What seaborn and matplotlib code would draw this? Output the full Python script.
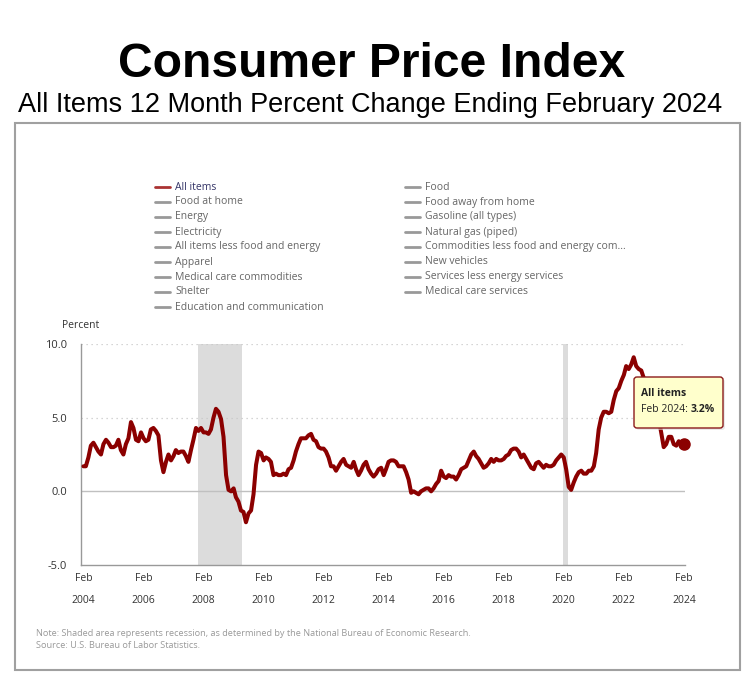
import numpy as np
import pandas as pd
import matplotlib
matplotlib.use("Agg")
import matplotlib.pyplot as plt
import seaborn as sns
from matplotlib.patches import Rectangle, FancyBboxPatch
from matplotlib.lines import Line2D

# ---------------- data ----------------
start_month = "2004-02-01"
cpi_all_items = [
    # 2004 Feb-Dec
    1.7, 1.7, 2.3, 3.1, 3.3, 3.0, 2.7, 2.5, 3.2, 3.5, 3.3,
    # 2005
    3.0, 3.0, 3.1, 3.5, 2.8, 2.5, 3.2, 3.6, 4.7, 4.3, 3.5, 3.4,
    # 2006
    4.0, 3.6, 3.4, 3.5, 4.2, 4.3, 4.1, 3.8, 2.1, 1.3, 2.0, 2.5,
    # 2007
    2.1, 2.4, 2.8, 2.6, 2.7, 2.7, 2.4, 2.0, 2.8, 3.5, 4.3, 4.1,
    # 2008
    4.3, 4.0, 4.0, 3.9, 4.2, 5.0, 5.6, 5.4, 4.9, 3.7, 1.1, 0.1,
    # 2009
    0.0, 0.2, -0.4, -0.7, -1.3, -1.4, -2.1, -1.5, -1.3, -0.2, 1.8, 2.7,
    # 2010
    2.6, 2.1, 2.3, 2.2, 2.0, 1.1, 1.2, 1.1, 1.1, 1.2, 1.1, 1.5,
    # 2011
    1.6, 2.1, 2.7, 3.2, 3.6, 3.6, 3.6, 3.8, 3.9, 3.5, 3.4, 3.0,
    # 2012
    2.9, 2.9, 2.7, 2.3, 1.7, 1.7, 1.4, 1.7, 2.0, 2.2, 1.8, 1.7,
    # 2013
    1.6, 2.0, 1.5, 1.1, 1.4, 1.8, 2.0, 1.5, 1.2, 1.0, 1.2, 1.5,
    # 2014
    1.6, 1.1, 1.5, 2.0, 2.1, 2.1, 2.0, 1.7, 1.7, 1.7, 1.3, 0.8,
    # 2015
    -0.1, 0.0, -0.1, -0.2, 0.0, 0.1, 0.2, 0.2, 0.0, 0.2, 0.5, 0.7,
    # 2016
    1.4, 1.0, 0.9, 1.1, 1.0, 1.0, 0.8, 1.1, 1.5, 1.6, 1.7, 2.1,
    # 2017
    2.5, 2.7, 2.4, 2.2, 1.9, 1.6, 1.7, 1.9, 2.2, 2.0, 2.2, 2.1,
    # 2018
    2.1, 2.2, 2.4, 2.5, 2.8, 2.9, 2.9, 2.7, 2.3, 2.5, 2.2, 1.9,
    # 2019
    1.6, 1.5, 1.9, 2.0, 1.8, 1.6, 1.8, 1.7, 1.7, 1.8, 2.1, 2.3,
    # 2020
    2.5, 2.3, 1.5, 0.3, 0.1, 0.6, 1.0, 1.3, 1.4, 1.2, 1.2, 1.4,
    # 2021
    1.4, 1.7, 2.6, 4.2, 5.0, 5.4, 5.4, 5.3, 5.4, 6.2, 6.8, 7.0,
    # 2022
    7.5, 7.9, 8.5, 8.3, 8.6, 9.1, 8.5, 8.3, 8.2, 7.7, 7.1, 6.5,
    # 2023
    6.4, 6.0, 5.0, 4.9, 4.0, 3.0, 3.2, 3.7, 3.7, 3.2, 3.1, 3.4,
    # 2024 Jan-Feb
    3.1, 3.2,
]
recessions = [("2007-11-20", "2009-05-20"), ("2020-01-20", "2020-03-25")]
tick_years = [2004, 2006, 2008, 2010, 2012, 2014, 2016, 2018, 2020, 2022, 2024]
y_ticks = [-5.0, 0.0, 5.0, 10.0]
legend_col1 = ["All items", "Food at home", "Energy", "Electricity",
               "All items less food and energy", "Apparel",
               "Medical care commodities", "Shelter",
               "Education and communication"]
legend_col2 = ["Food", "Food away from home", "Gasoline (all types)",
               "Natural gas (piped)", "Commodities less food and energy com...",
               "New vehicles", "Services less energy services",
               "Medical care services"]
title = "Consumer Price Index"
subtitle = "All Items 12 Month Percent Change Ending February 2024"
note_lines = ["Note: Shaded area represents recession, as determined by the National Bureau of Economic Research.",
              "Source: U.S. Bureau of Labor Statistics."]

dates = pd.date_range(start_month, periods=len(cpi_all_items), freq="MS")
df = pd.DataFrame({"date": dates, "value": cpi_all_items})

# ---------------- figure ----------------
sns.set_style("white")
plt.rcParams["font.family"] = ["Open Sans", "DejaVu Sans"]
W, H = 755, 677
fig = plt.figure(figsize=(W / 100, H / 100), dpi=100)

def fx(px):
    return px / W

def fy(py):
    return 1 - py / H

# outer box
fig.patches.append(Rectangle((fx(15), fy(670)), fx(740) - fx(15), fy(123) - fy(670),
                             transform=fig.transFigure, fill=False,
                             edgecolor="#a0a0a0", linewidth=1.5))

fig.text(fx(372), fy(77), title, ha="center", va="baseline",
         fontsize=34.6, fontweight="bold", family="Liberation Sans", color="black")
fig.text(fx(370), fy(112), subtitle, ha="center", va="baseline",
         fontsize=19.5, family="Liberation Sans", color="black")

ax = fig.add_axes([fx(81), fy(565), fx(685) - fx(81), fy(344) - fy(565)])

for s, e in recessions:
    ax.axvspan(pd.Timestamp(s), pd.Timestamp(e), color="#dcdcdc", lw=0, zorder=0)

for yv in [5.0, 10.0]:
    ax.axhline(yv, color="#c8c8c8", lw=0.9, ls=(0, (1, 3)), zorder=1)
ax.axhline(0.0, color="#c0c0c0", lw=1.0, zorder=1)

sns.lineplot(data=df, x="date", y="value", ax=ax, color="#8b0000",
             linewidth=2.9, zorder=3)
ax.plot(df["date"].iloc[-1], df["value"].iloc[-1], "o", color="#8b0000",
        markersize=8, zorder=4, clip_on=False)

xmin = pd.Timestamp("2004-02-01") - pd.Timedelta(days=30)
xmax = pd.Timestamp("2024-02-01") + pd.Timedelta(days=14)
ax.set_xlim(xmin, xmax)
ax.set_ylim(-5, 10)
ax.set_yticks(y_ticks)
ax.set_yticklabels([f"{v:.1f}" for v in y_ticks], fontsize=8, color="#333333")
ax.set_xticks([pd.Timestamp(f"{y}-02-01") for y in tick_years])
ax.set_xticklabels([f"Feb\n\n{y}" for y in tick_years], fontsize=7.5,
                   color="#333333", linespacing=0.95)
ax.tick_params(axis="both", length=0, pad=6)
ax.tick_params(axis="y", pad=10)
ax.set_xlabel("")
ax.set_ylabel("")
for side in ["top", "right"]:
    ax.spines[side].set_visible(False)
for side in ["left", "bottom"]:
    ax.spines[side].set_color("#999999")
    ax.spines[side].set_linewidth(1.0)

fig.text(fx(62), fy(325), "Percent", fontsize=7.5, color="#333333",
         ha="left", va="center")

# legend
for col, names, x0 in [(1, legend_col1, 155), (2, legend_col2, 405)]:
    for i, name in enumerate(names):
        yy = 187 + 15 * i
        is_main = (col == 1 and i == 0)
        fig.add_artist(Line2D([fx(x0), fx(x0 + 15)], [fy(yy), fy(yy)],
                              transform=fig.transFigure,
                              color="#aa3333" if is_main else "#999999", lw=2))
        fig.text(fx(x0 + 20), fy(yy), name, fontsize=7.5,
                 color="#333366" if is_main else "#666666",
                 ha="left", va="center")

# tooltip
fig.patches.append(FancyBboxPatch((fx(636), fy(430)), fx(725) - fx(636), fy(379) - fy(430),
                                  boxstyle="round,pad=0,rounding_size=0.004",
                                  transform=fig.transFigure, facecolor="#dddddd",
                                  edgecolor="none", linewidth=0, zorder=9, alpha=0.6))
fig.patches.append(FancyBboxPatch((fx(634), fy(428)), fx(723) - fx(634), fy(377) - fy(428),
                                  boxstyle="round,pad=0,rounding_size=0.004",
                                  transform=fig.transFigure, facecolor="#ffffcc",
                                  edgecolor="#8b1a1a", linewidth=1.0, zorder=10))
fig.text(fx(641), fy(393), "All items", fontsize=7.5, fontweight="bold",
         color="#222222", ha="left", va="center", zorder=11)
t1 = fig.text(fx(641), fy(410), "Feb 2024: ", fontsize=7.5,
              color="#222222", ha="left", va="center", zorder=11)
fig.canvas.draw()
bb = t1.get_window_extent()
fig.text(bb.x1 / W, fy(410), f"{cpi_all_items[-1]:.1f}%", fontsize=7.5,
         fontweight="bold", color="#222222", ha="left", va="center", zorder=11)

for i, line in enumerate(note_lines):
    fig.text(fx(36), fy(633 + 12 * i), line, fontsize=6.6, color="#999999",
             ha="left", va="center")

fig.savefig("out.png", dpi=100)
